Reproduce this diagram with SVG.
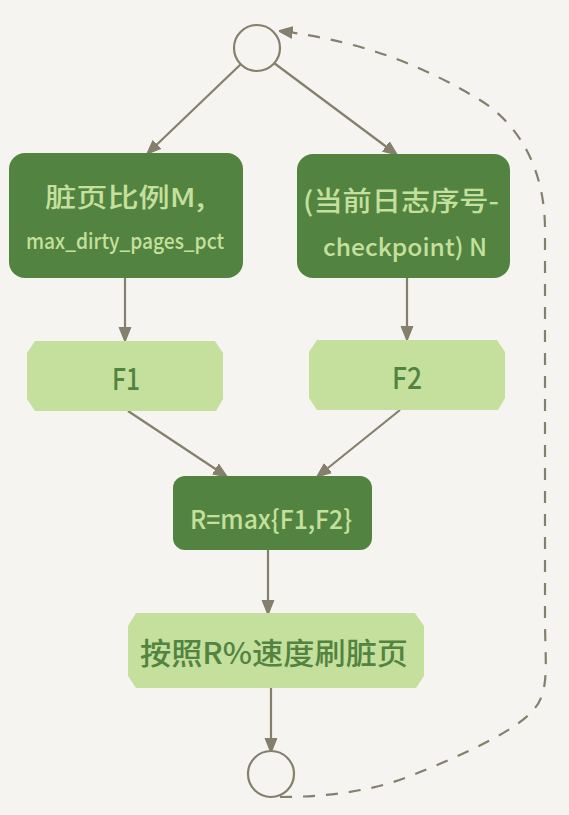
<svg xmlns="http://www.w3.org/2000/svg" width="569" height="815" viewBox="0 0 569 815">
<style>
.dark{fill:#528341}
.light{fill:#c5e09c}
.tl{fill:#c5e09c;font-family:"Noto Sans CJK SC","Liberation Sans",sans-serif;text-anchor:middle;font-weight:500}
.td{fill:#528341;font-family:"Noto Sans CJK SC","Liberation Sans",sans-serif;text-anchor:middle;font-weight:500}
.ln{stroke:#857f6d;stroke-width:2.2;fill:none}
.circ{stroke:#857f6d;stroke-width:2.2;fill:#f5f4f0}
</style>
<defs>
<marker id="ahb" viewBox="0 0 10 10" refX="9" refY="5" markerWidth="14" markerHeight="14" markerUnits="userSpaceOnUse" orient="auto">
<path d="M0,1 L10,5 L0,9 Z" fill="#857f6d" stroke="#857f6d" stroke-width="1" stroke-linejoin="round"/>
</marker>
</defs>
<rect width="569" height="815" fill="#f5f4f0"/>
<g id="connectors">
<line class="ln" x1="241" y1="64" x2="148" y2="153" marker-end="url(#ahb)"/>
<line class="ln" x1="274" y1="63" x2="396" y2="154" marker-end="url(#ahb)"/>
<line class="ln" x1="125" y1="278" x2="125" y2="340" marker-end="url(#ahb)"/>
<line class="ln" x1="407" y1="278" x2="407" y2="339" marker-end="url(#ahb)"/>
<line class="ln" x1="128" y1="411" x2="226" y2="476" marker-end="url(#ahb)"/>
<line class="ln" x1="400" y1="410" x2="318" y2="476" marker-end="url(#ahb)"/>
<line class="ln" x1="268" y1="550" x2="268" y2="613" marker-end="url(#ahb)"/>
<line class="ln" x1="271" y1="688" x2="271" y2="751" marker-end="url(#ahb)"/>
<path class="ln" stroke-dasharray="12,11" d="M280,797 C330,797 380,790 420,772 C470,752 520,728 535,708 C550,690 545,660 545,620 L545,230 C545,170 520,125 480,100 C430,70 370,42 280,31" marker-end="url(#ahb)"/>
</g>
<g id="start"><circle class="circ" cx="257" cy="48" r="23"/></g>
<g id="end"><circle class="circ" cx="271" cy="774" r="23"/></g>
<g id="ratioM">
<rect class="dark" x="9" y="153" width="234" height="125" rx="16"/>
<text class="tl" x="125" y="207" font-size="26" textLength="160" lengthAdjust="spacingAndGlyphs">脏页比例M,</text>
<text class="tl" x="125" y="249" font-size="22" textLength="198" lengthAdjust="spacingAndGlyphs">max_dirty_pages_pct</text>
</g>
<g id="lsnN">
<rect class="dark" x="297" y="154" width="213" height="124" rx="16"/>
<text class="tl" x="401" y="211" font-size="27" textLength="196" lengthAdjust="spacingAndGlyphs">(当前日志序号-</text>
<text class="tl" x="405" y="256" font-size="24" textLength="164" lengthAdjust="spacingAndGlyphs">checkpoint) N</text>
</g>
<g id="F1">
<path class="light" d="M35,341 L215,341 L223,353 L223,399 L216,411 L35,411 L27,399 L27,353 Z"/>
<text class="td" x="126" y="390" font-size="30" font-weight="700" textLength="28" lengthAdjust="spacingAndGlyphs">F1</text>
</g>
<g id="F2">
<path class="light" d="M317,340 L497,340 L505,352 L505,398 L498,410 L317,410 L309,398 L309,352 Z"/>
<text class="td" x="407" y="389" font-size="30" font-weight="700" textLength="30" lengthAdjust="spacingAndGlyphs">F2</text>
</g>
<g id="R">
<rect class="dark" x="173" y="476" width="199" height="74" rx="12"/>
<text class="tl" x="271" y="529" font-size="26" textLength="162" lengthAdjust="spacingAndGlyphs">R=max{F1,F2}</text>
</g>
<g id="flush">
<path class="light" d="M136,613 L415,613 L424,626 L424,676 L416,688 L136,688 L128,676 L128,626 Z"/>
<text class="td" x="274" y="664" font-size="30" textLength="268" lengthAdjust="spacingAndGlyphs">按照R%速度刷脏页</text>
</g>
</svg>
